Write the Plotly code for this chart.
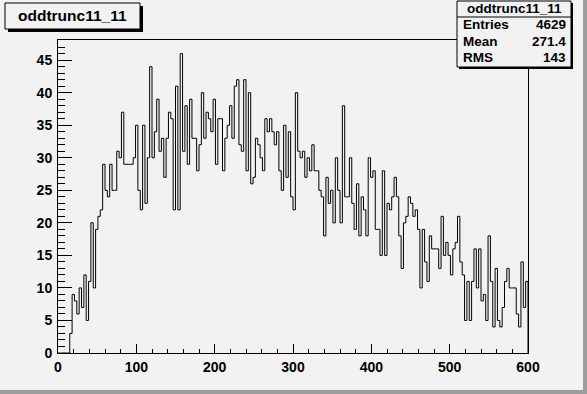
import numpy as np
import plotly.graph_objects as go

# ---- data -------------------------------------------------------------
hist_name = "oddtrunc11_11"
x_min, x_max, n_bins = 0, 600, 200
counts = [
    0, 0, 0, 0, 0, 3, 9, 8, 6, 10,
    7, 12, 5, 11, 20, 10, 19, 21, 22, 29,
    25, 24, 29, 25, 25, 31, 30, 37, 29, 29,
    29, 29, 30, 35, 25, 22, 35, 23, 30, 44,
    30, 34, 39, 31, 33, 27, 33, 37, 36, 22,
    41, 22, 46, 31, 38, 29, 39, 33, 33, 28,
    32, 40, 33, 37, 36, 34, 39, 29, 36, 36,
    28, 33, 35, 38, 33, 41, 42, 32, 31, 42,
    28, 40, 26, 27, 33, 32, 30, 28, 36, 34,
    36, 34, 32, 34, 28, 25, 35, 27, 34, 24,
    22, 40, 31, 30, 31, 27, 30, 28, 32, 28,
    28, 25, 24, 18, 27, 23, 25, 20, 30, 25,
    20, 38, 24, 24, 30, 23, 19, 26, 18, 24,
    22, 18, 30, 27, 28, 19, 19, 15, 28, 15,
    23, 22, 24, 27, 24, 18, 13, 20, 21, 24,
    23, 21, 22, 19, 10, 19, 14, 11, 18, 16,
    16, 16, 13, 21, 15, 17, 15, 12, 16, 17,
    21, 14, 12, 5, 11, 5, 11, 16, 10, 16,
    8, 9, 5, 18, 11, 4, 13, 5, 4, 7,
    11, 13, 10, 10, 10, 6, 4, 14, 7, 11,
]
stats_labels = ["Entries", "Mean", "RMS"]
stats_values = ["4629", "271.4", "143"]
x_ticks = [0, 100, 200, 300, 400, 500, 600]
y_ticks = [0, 5, 10, 15, 20, 25, 30, 35, 40, 45]
y_top = 48.1

# ---- geometry ---------------------------------------------------------
W, H = 587, 394
L, R, T, B = 58, 528, 40, 353
BG = "#f2f2f2"
FONT = "Liberation Sans, Arial, sans-serif"


def px(x):
    return (x - L) / (R - L)


def py(y):
    return (B - y) / (B - T)


edges = np.linspace(x_min, x_max, n_bins + 1)
xs = list(edges) + [x_max]
ys = list(counts) + [counts[-1], 0]

fig = go.Figure()
fig.add_trace(go.Scatter(
    x=xs, y=ys, mode="lines", line=dict(color="black", width=1, shape="hv"),
    hoverinfo="skip", showlegend=False,
))

tickfont = dict(family=FONT, size=14, color="black", weight="bold")
fig.update_xaxes(
    range=[x_min, x_max], tickvals=x_ticks, ticks="inside", ticklen=9,
    tickwidth=1, tickcolor="black", showline=True, linecolor="black",
    linewidth=1, mirror=True, showgrid=False, zeroline=False,
    tickfont=tickfont, ticklabelstandoff=1, automargin=False,
    minor=dict(dtick=20, ticks="inside", ticklen=4.5, tickcolor="black",
               tickwidth=1, showgrid=False),
)
fig.update_yaxes(
    range=[0, y_top], tickvals=y_ticks, ticks="inside", ticklen=14,
    tickwidth=1, tickcolor="black", showline=True, linecolor="black",
    linewidth=1, mirror=True, showgrid=False, zeroline=False,
    tickfont=tickfont, ticklabelstandoff=2, automargin=False,
    minor=dict(dtick=1, tick0=0, ticks="inside", ticklen=7, tickcolor="black",
               tickwidth=1, showgrid=False),
)

shapes = []
# canvas bevel (right and bottom)
shapes.append(dict(type="rect", xref="paper", yref="paper",
                   x0=px(583), x1=px(W), y0=py(0), y1=py(H),
                   fillcolor="#9c9c9c", line=dict(width=0), layer="below"))
shapes.append(dict(type="rect", xref="paper", yref="paper",
                   x0=px(0), x1=px(W), y0=py(390), y1=py(H),
                   fillcolor="#9c9c9c", line=dict(width=0), layer="below"))

# title box with shadow
tx0, tx1, ty0, ty1 = 5, 140, 3, 29
shapes.append(dict(type="rect", xref="paper", yref="paper",
                   x0=px(tx0 + 3), x1=px(tx1 + 3), y0=py(ty0 + 3), y1=py(ty1 + 3),
                   fillcolor="black", line=dict(width=0)))
shapes.append(dict(type="rect", xref="paper", yref="paper",
                   x0=px(tx0), x1=px(tx1), y0=py(ty0), y1=py(ty1),
                   fillcolor=BG, line=dict(color="black", width=1)))

# stats box with shadow
sx0, sx1, sy0, sy1 = 457, 571, 1, 67
shapes.append(dict(type="rect", xref="paper", yref="paper",
                   x0=px(sx0 + 2), x1=px(sx1 + 2), y0=py(sy0 + 2), y1=py(sy1 + 2),
                   fillcolor="black", line=dict(width=0)))
shapes.append(dict(type="rect", xref="paper", yref="paper",
                   x0=px(sx0), x1=px(sx1), y0=py(sy0), y1=py(sy1),
                   fillcolor=BG, line=dict(color="black", width=1)))
shapes.append(dict(type="line", xref="paper", yref="paper",
                   x0=px(sx0), x1=px(sx1), y0=py(17), y1=py(17),
                   line=dict(color="black", width=1)))

annotations = []
annotations.append(dict(xref="paper", yref="paper", x=px((tx0 + tx1) / 2), y=py((ty0 + ty1) / 2),
                        text=hist_name, showarrow=False, xanchor="center", yanchor="middle",
                        font=dict(family=FONT, size=15.5, color="black", weight="bold")))
sfont = dict(family=FONT, size=13.5, color="black", weight="bold")
annotations.append(dict(xref="paper", yref="paper", x=px((sx0 + sx1) / 2), y=py(9),
                        text=hist_name, showarrow=False, xanchor="center", yanchor="middle",
                        font=sfont))
row_y = [25, 41, 58]
for lab, val, yy in zip(stats_labels, stats_values, row_y):
    annotations.append(dict(xref="paper", yref="paper", x=px(sx0 + 4), y=py(yy),
                            text=lab, showarrow=False, xanchor="left", yanchor="middle",
                            font=sfont))
    annotations.append(dict(xref="paper", yref="paper", x=px(sx1 - 3), y=py(yy),
                            text=val, showarrow=False, xanchor="right", yanchor="middle",
                            font=sfont))

fig.update_layout(
    width=W, height=H,
    margin=dict(l=L, r=W - R, t=T, b=H - B, pad=0, autoexpand=False),
    paper_bgcolor=BG, plot_bgcolor=BG,
    shapes=shapes, annotations=annotations,
    showlegend=False,
)

fig.write_html(
    "out.html",
    config={"displayModeBar": False, "staticPlot": True},
    post_script="document.body.style.margin='0px';document.body.style.background='%s';" % BG,
)
